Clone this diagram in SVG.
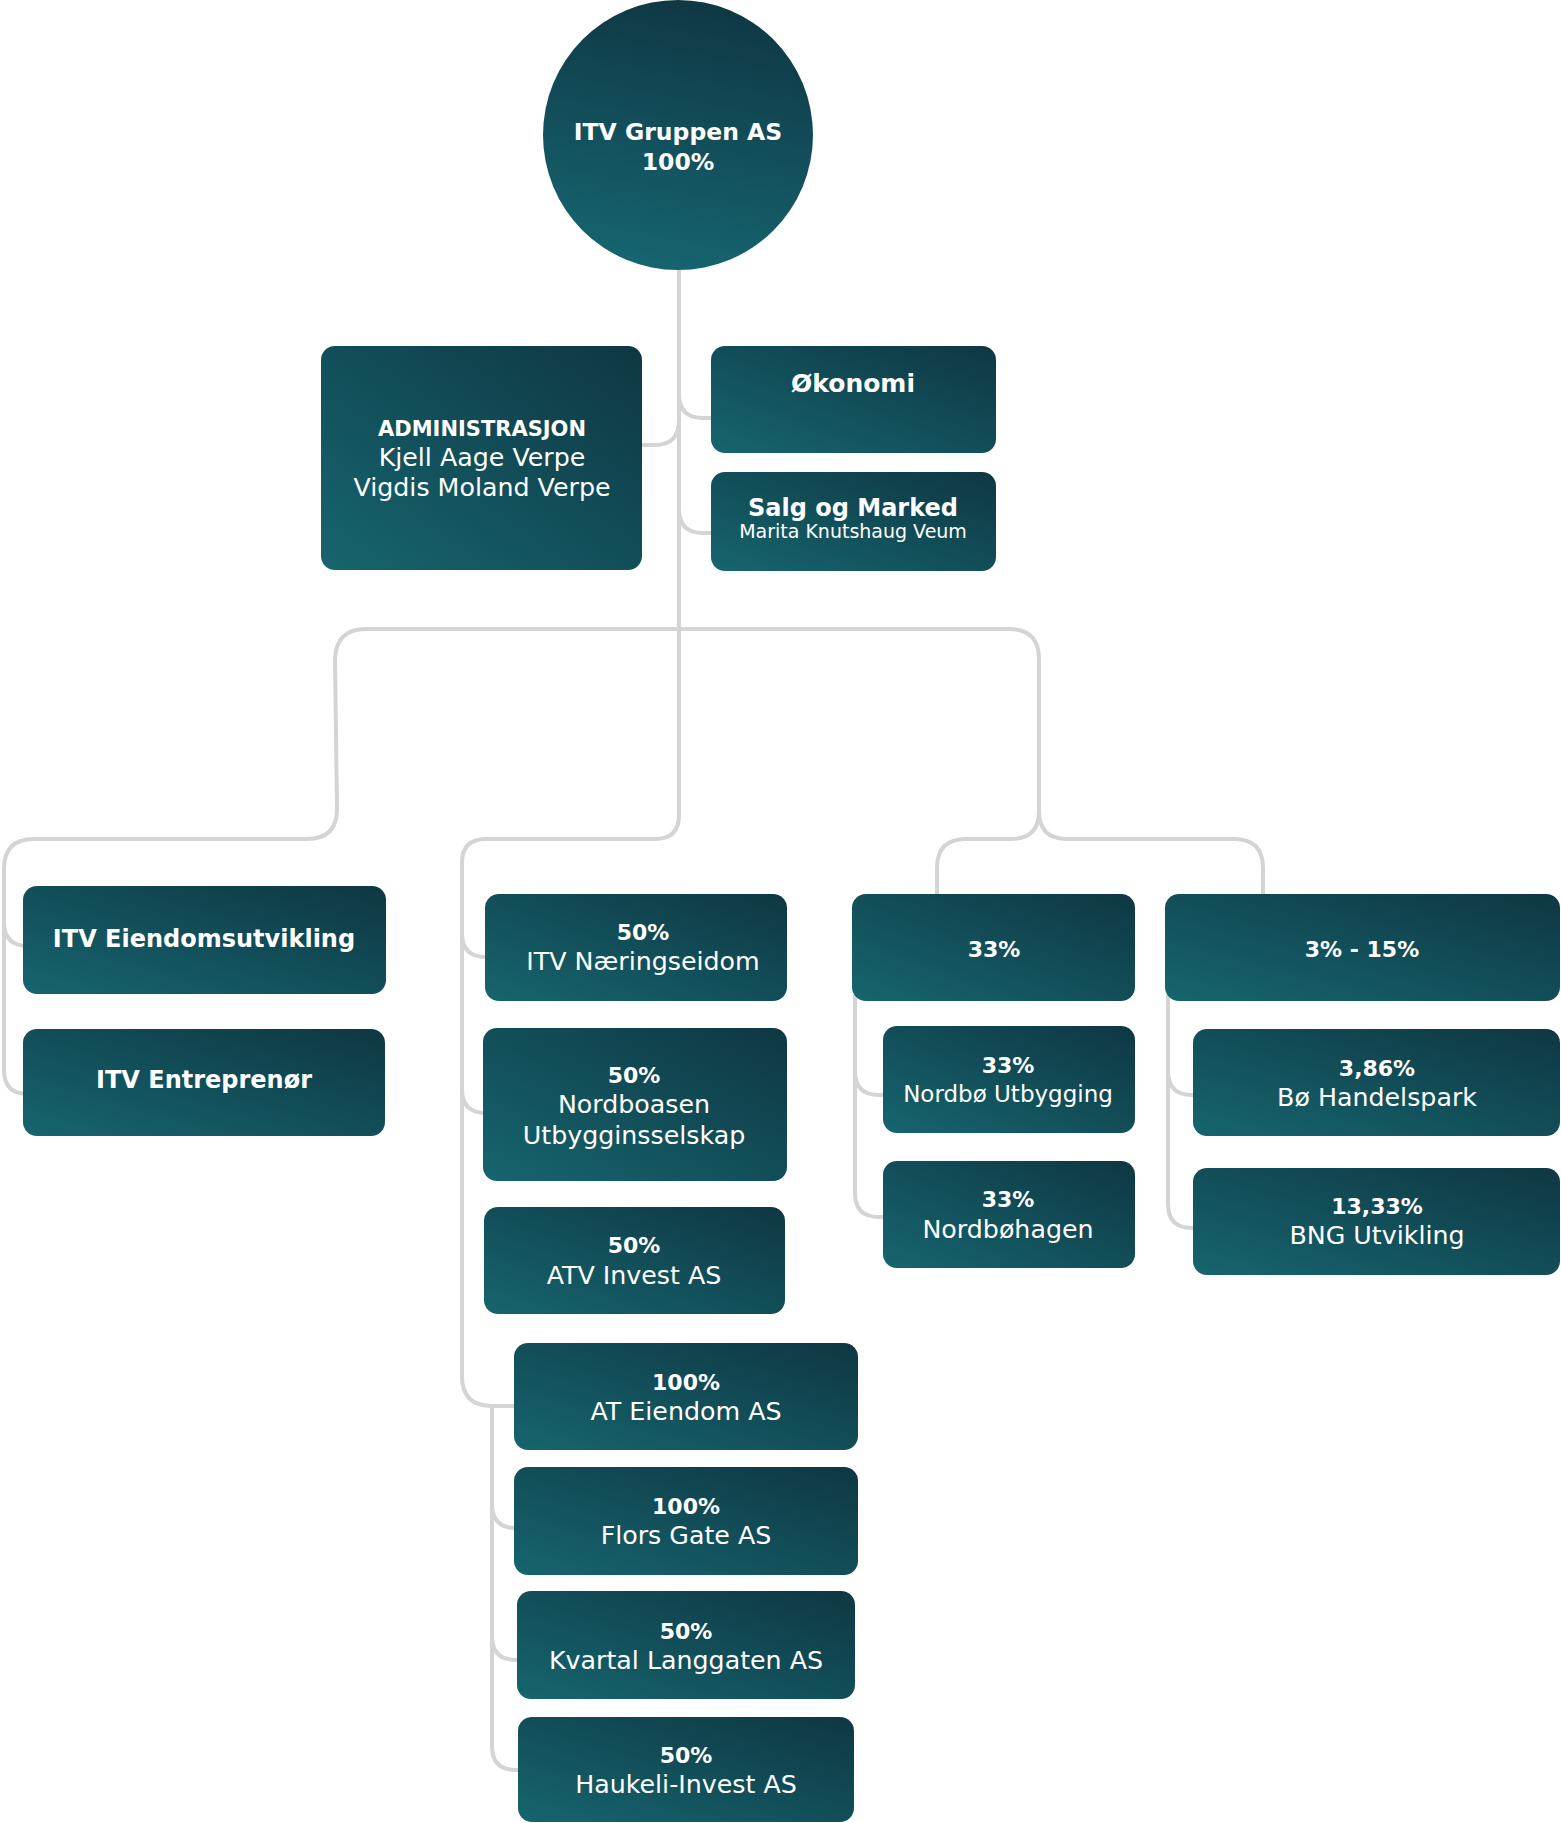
<svg xmlns="http://www.w3.org/2000/svg" width="1561" height="1823" viewBox="0 0 1561 1823">
<defs>
<linearGradient id="gb" x1="0" y1="1" x2="1" y2="0">
<stop offset="0" stop-color="#16656e"/>
<stop offset="1" stop-color="#0e3743"/>
</linearGradient>
<linearGradient id="gc" x1="0.4" y1="1" x2="0.6" y2="0">
<stop offset="0" stop-color="#156570"/>
<stop offset="1" stop-color="#0f3744"/>
</linearGradient>
<style>
.box{fill:url(#gb);}
.con{fill:none;stroke:#d4d4d4;stroke-width:4;stroke-linecap:round;}
text{fill:#ffffff;font-family:"DejaVu Sans","Liberation Sans",sans-serif;text-anchor:middle;}
.b{font-weight:bold;font-size:22px;}
.t{font-weight:bold;font-size:24px;}
.r{font-size:25.3px;}
.s{font-size:19px;}
</style>
</defs>
<rect width="1561" height="1823" fill="#ffffff"/>
<g id="connectors">
<path class="con" d="M679 270 V815 Q679 839 655 839 H486 Q462 839 462 863 V1376 Q462 1406 492 1406 H516"/>
<path class="con" d="M679 420 Q679 445 655 445 H642"/>
<path class="con" d="M679 394 Q679 418 703 418 H712"/>
<path class="con" d="M679 509 Q679 533 703 533 H712"/>
<path class="con" d="M1039 815 V659 Q1039 629 1009 629 H366 Q336 629 335 659 L337 809 Q337 839 307 839 H34 Q4 839 4 869 V1070 Q4 1094 28 1094"/>
<path class="con" d="M4 922 Q4 946 28 946"/>
<path class="con" d="M462 933 Q462 957 486 957"/>
<path class="con" d="M462 1089 Q462 1113 486 1113"/>
<path class="con" d="M1039 811 Q1039 839 1011 839 H966 Q937 839 937 868 V896"/>
<path class="con" d="M1039 811 Q1039 839 1067 839 H1234 Q1263 839 1263 868 V896"/>
<path class="con" d="M855 995 V1193 Q855 1217 879 1217 H885"/>
<path class="con" d="M855 1071 Q855 1095 879 1095 H885"/>
<path class="con" d="M1168 995 V1204 Q1168 1228 1192 1228 H1195"/>
<path class="con" d="M1168 1071 Q1168 1095 1192 1095 H1195"/>
<path class="con" d="M492 1406 V1746 Q492 1770 516 1770 H520"/>
<path class="con" d="M492 1504 Q492 1528 516 1528"/>
<path class="con" d="M492 1636 Q492 1660 516 1660 H519"/>
</g>
<g id="itv-gruppen">
<circle cx="678" cy="135" r="135" fill="url(#gc)"/>
<text class="t" x="678" y="140" style="font-size:23.5px">ITV Gruppen AS</text>
<text class="t" x="678" y="170" style="font-size:23.5px">100%</text>
</g>
<g id="administrasjon">
<rect class="box" x="321" y="346" width="321" height="224" rx="14"/>
<text class="b" x="482" y="436" style="font-size:21px">ADMINISTRASJON</text>
<text class="r" x="482" y="466">Kjell Aage Verpe</text>
<text class="r" x="482" y="496">Vigdis Moland Verpe</text>
</g>
<g id="okonomi">
<rect class="box" x="711" y="346" width="285" height="107" rx="14"/>
<text class="t" x="853" y="392" style="font-size:25px">Økonomi</text>
</g>
<g id="salg">
<rect class="box" x="711" y="472" width="285" height="99" rx="14"/>
<text class="t" x="853" y="516">Salg og Marked</text>
<text class="s" x="853" y="538">Marita Knutshaug Veum</text>
</g>
<g id="itv-eiendomsutvikling">
<rect class="box" x="23" y="886" width="363" height="108" rx="14"/>
<text class="t" x="204" y="947">ITV Eiendomsutvikling</text>
</g>
<g id="itv-entreprenor">
<rect class="box" x="23" y="1029" width="362" height="107" rx="14"/>
<text class="t" x="204" y="1088">ITV Entreprenør</text>
</g>
<g id="itv-naeringseidom">
<rect class="box" x="485" y="894" width="302" height="107" rx="14"/>
<text class="b" x="643" y="940">50%</text>
<text class="r" x="643" y="970">ITV Næringseidom</text>
</g>
<g id="nordboasen">
<rect class="box" x="483" y="1028" width="304" height="153" rx="14"/>
<text class="b" x="634" y="1083">50%</text>
<text class="r" x="634" y="1113">Nordboasen</text>
<text class="r" x="634" y="1144">Utbygginsselskap</text>
</g>
<g id="atv-invest">
<rect class="box" x="484" y="1207" width="301" height="107" rx="14"/>
<text class="b" x="634" y="1253">50%</text>
<text class="r" x="634" y="1284">ATV Invest AS</text>
</g>
<g id="at-eiendom">
<rect class="box" x="514" y="1343" width="344" height="107" rx="14"/>
<text class="b" x="686" y="1390">100%</text>
<text class="r" x="686" y="1420">AT Eiendom AS</text>
</g>
<g id="flors-gate">
<rect class="box" x="514" y="1467" width="344" height="108" rx="14"/>
<text class="b" x="686" y="1514">100%</text>
<text class="r" x="686" y="1544">Flors Gate AS</text>
</g>
<g id="kvartal-langgaten">
<rect class="box" x="517" y="1591" width="338" height="108" rx="14"/>
<text class="b" x="686" y="1639">50%</text>
<text class="r" x="686" y="1669">Kvartal Langgaten AS</text>
</g>
<g id="haukeli-invest">
<rect class="box" x="518" y="1717" width="336" height="105" rx="14"/>
<text class="b" x="686" y="1763">50%</text>
<text class="r" x="686" y="1793">Haukeli-Invest AS</text>
</g>
<g id="group-33">
<rect class="box" x="852" y="894" width="283" height="107" rx="14"/>
<text class="b" x="994" y="957">33%</text>
</g>
<g id="nordbo-utbygging">
<rect class="box" x="883" y="1026" width="252" height="107" rx="14"/>
<text class="b" x="1008" y="1073">33%</text>
<text class="r" x="1008" y="1102" style="font-size:23px">Nordbø Utbygging</text>
</g>
<g id="nordbohagen">
<rect class="box" x="883" y="1161" width="252" height="107" rx="14"/>
<text class="b" x="1008" y="1207">33%</text>
<text class="r" x="1008" y="1238">Nordbøhagen</text>
</g>
<g id="group-3-15">
<rect class="box" x="1165" y="894" width="395" height="107" rx="14"/>
<text class="b" x="1362" y="957">3% - 15%</text>
</g>
<g id="bo-handelspark">
<rect class="box" x="1193" y="1029" width="367" height="107" rx="14"/>
<text class="b" x="1377" y="1076">3,86%</text>
<text class="r" x="1377" y="1106">Bø Handelspark</text>
</g>
<g id="bng-utvikling">
<rect class="box" x="1193" y="1168" width="367" height="107" rx="14"/>
<text class="b" x="1377" y="1214">13,33%</text>
<text class="r" x="1377" y="1244">BNG Utvikling</text>
</g>
</svg>
